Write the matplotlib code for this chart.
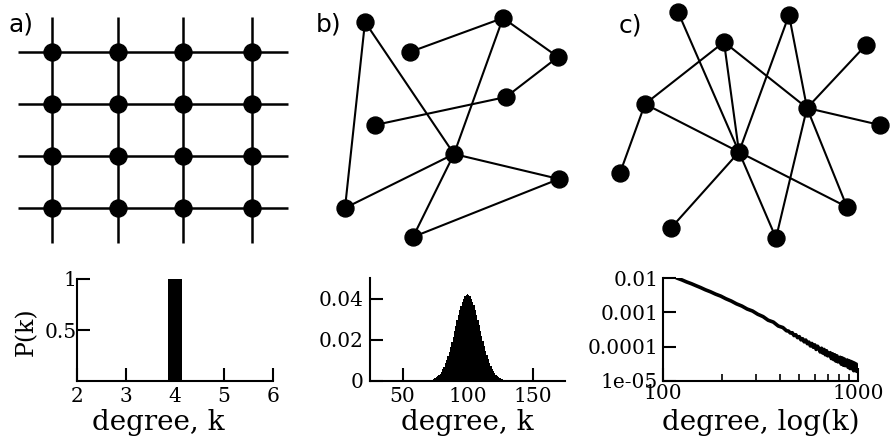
import numpy as np
import matplotlib
matplotlib.use('Agg')
from matplotlib import pyplot as plt
from matplotlib.ticker import NullLocator, NullFormatter, FixedLocator

plt.rcParams['font.family'] = ['DejaVu Serif']

# top row, node positions in picture pixels (y goes down)
lattice_x = [52, 118, 183, 252]
lattice_y = [52, 104, 156, 208]

random_x = [365, 503, 410, 558, 506, 375, 454, 559, 345, 413]
random_y = [22, 18, 52, 57, 97, 125, 154, 179, 208, 237]
random_edges = [(0, 8), (0, 6), (2, 1), (1, 3), (3, 4), (4, 5),
                (1, 6), (6, 8), (6, 7), (6, 9), (9, 7)]

sf_x = [678, 789, 724, 866, 645, 807, 880, 739, 620, 847, 671, 776]
sf_y = [12, 15, 42, 45, 104, 108, 125, 152, 173, 207, 228, 238]
sf_edges = [(0, 7), (2, 4), (2, 7), (2, 5), (1, 7), (1, 5), (3, 5), (5, 6),
            (4, 7), (4, 8), (7, 10), (7, 9), (7, 11), (5, 11), (5, 9)]

# bottom row, degree distributions
lattice_k = [4]
lattice_pk = [1.0]

random_k0 = 72
random_pk = [0.0005, 0.0007, 0.0010, 0.0013, 0.0017, 0.0022, 0.0029, 0.0036,
             0.0046, 0.0057, 0.0070, 0.0085, 0.0102, 0.0121, 0.0142, 0.0165,
             0.0189, 0.0215, 0.0241, 0.0268, 0.0295, 0.0320, 0.0344, 0.0366,
             0.0384, 0.0400, 0.0411, 0.0418, 0.0420, 0.0418, 0.0411, 0.0400,
             0.0385, 0.0367, 0.0346, 0.0322, 0.0297, 0.0271, 0.0245, 0.0219,
             0.0193, 0.0169, 0.0146, 0.0125, 0.0106, 0.0089, 0.0074, 0.0060,
             0.0049, 0.0039, 0.0031, 0.0024, 0.0019, 0.0014, 0.0011, 0.0008,
             0.0006, 0.0004, 0.0003, 0.0002]
random_k = np.arange(random_k0, random_k0 + len(random_pk))

sf_k = [119, 125, 132, 140, 148, 156, 165, 175, 186, 198, 210, 224, 238, 254,
        270, 288, 306, 326, 346, 368, 390, 412, 430,
        440, 450, 460, 470, 480, 490, 500, 510, 520, 530, 540, 550, 560, 570,
        580, 590, 600, 610, 620, 630, 640, 650, 660, 670, 680, 690, 700, 710,
        720, 730, 740, 750, 760, 770, 780, 790, 800, 810, 820, 830, 840, 850,
        860, 870, 880, 890, 900, 910, 920, 930, 940, 950, 960, 970, 980, 990,
        1000]
sf_pk = [0.00977, 0.00880, 0.00770, 0.00680, 0.00594, 0.00525, 0.00453,
         0.00398, 0.00339, 0.00296, 0.00249, 0.00213, 0.00177, 0.00152,
         0.00125, 0.00109, 0.00088, 0.00075, 0.00059, 0.00052, 0.00040,
         0.00036, 0.00029,
         2.85e-4, 2.50e-4, 2.55e-4, 2.10e-4, 2.22e-4, 1.83e-4, 1.96e-4, 1.58e-4,
         1.70e-4, 1.38e-4, 1.56e-4, 1.22e-4, 1.36e-4, 1.05e-4, 1.24e-4, 9.6e-5,
         1.13e-4, 8.3e-5, 1.03e-4, 8.9e-5, 7.0e-5, 9.0e-5, 6.5e-5, 8.3e-5,
         5.8e-5, 7.6e-5, 5.4e-5, 6.2e-5, 6.7e-5, 4.5e-5, 6.2e-5, 4.2e-5,
         5.8e-5, 3.8e-5, 5.4e-5, 3.6e-5, 4.5e-5, 4.9e-5, 3.1e-5, 4.7e-5,
         2.9e-5, 4.4e-5, 2.8e-5, 3.5e-5, 4.1e-5, 2.5e-5, 3.9e-5, 2.3e-5,
         3.7e-5, 2.3e-5, 3.5e-5, 2.0e-5, 3.3e-5, 2.0e-5, 3.1e-5, 1.9e-5,
         2.6e-5]

fig = plt.figure(figsize=(8.91, 4.43), dpi=100)

# networks drawn on one overlay in pixel coordinates
net = fig.add_axes([0, 0, 1, 1])
net.set_xlim(0, 891)
net.set_ylim(443, 0)
net.set_axis_off()

for x in lattice_x:
    net.plot([x, x], [17, 243], color='black', lw=1.8, solid_capstyle='butt')
for y in lattice_y:
    net.plot([18, 288], [y, y], color='black', lw=1.8, solid_capstyle='butt')
gx, gy = np.meshgrid(lattice_x, lattice_y)
net.plot(gx.ravel(), gy.ravel(), 'o', color='black', ms=12.2)

for xs, ys, edges in [(random_x, random_y, random_edges), (sf_x, sf_y, sf_edges)]:
    for i, j in edges:
        net.plot([xs[i], xs[j]], [ys[i], ys[j]], color='black', lw=1.5)
    net.plot(xs, ys, 'o', color='black', ms=12.2)

for x, y, s in [(9, 31, 'a)'), (316, 31, 'b)'), (619, 32, 'c)')]:
    net.text(x, y, s, fontsize=18, family='DejaVu Sans', va='baseline', ha='left')


def style(ax, xpad, ypad):
    ax.spines['top'].set_visible(False)
    ax.spines['right'].set_visible(False)
    ax.spines['left'].set_linewidth(1.5)
    ax.spines['bottom'].set_linewidth(1.5)
    ax.tick_params(which='major', direction='in', length=9.5, width=1.5, labelsize=14.5)
    ax.tick_params(which='minor', direction='in', length=5, width=1.2)
    ax.tick_params(axis='x', pad=xpad)
    ax.tick_params(axis='y', pad=ypad)


# a) lattice
ax1 = fig.add_axes([77 / 891, 62 / 443, 196 / 891, 102 / 443])
ax1.bar(lattice_k, lattice_pk, width=0.28, color='black')
ax1.set_xlim(2, 6)
ax1.set_ylim(0, 1)
ax1.set_xticks([2, 3, 4, 5, 6])
ax1.set_yticks([0.5, 1])
ax1.set_yticklabels(['0.5', '1'])
style(ax1, 4.5, 0.5)
ax1.set_xlabel('degree, k', fontsize=20)
ax1.xaxis.set_label_coords(0.413, -0.27)
ax1.set_ylabel('P(k)', fontsize=17)
ax1.yaxis.set_label_coords(-0.2, 0.48)

# b) random network
ax2 = fig.add_axes([370 / 891, 62 / 443, 195 / 891, 103 / 443])
ax2.bar(random_k, random_pk, width=1.0, color='black', linewidth=0, antialiased=False)
ax2.set_xlim(25, 175)
ax2.set_ylim(0, 0.05)
ax2.set_xticks([50, 100, 150])
ax2.set_yticks([0, 0.02, 0.04])
ax2.set_yticklabels(['0', '0.02', '0.04'])
style(ax2, 4.5, 5)
ax2.set_xlabel('degree, k', fontsize=20)
ax2.xaxis.set_label_coords(0.5, -0.27)

# c) scale-free network
ax3 = fig.add_axes([663 / 891, 62 / 443, 195 / 891, 103 / 443])
ax3.loglog(sf_k, sf_pk, color='black', lw=2.6)
ax3.set_xlim(100, 1000)
ax3.set_ylim(1e-5, 1e-2)
ax3.xaxis.set_major_locator(FixedLocator([100, 1000]))
ax3.set_xticklabels(['100', '1000'])
ax3.xaxis.set_minor_locator(FixedLocator([200, 300, 400, 500, 600, 700, 800, 900]))
ax3.xaxis.set_minor_formatter(NullFormatter())
ax3.yaxis.set_major_locator(FixedLocator([1e-5, 1e-4, 1e-3, 1e-2]))
ax3.set_yticklabels(['1e-05', '0.0001', '0.001', '0.01'])
ax3.yaxis.set_minor_locator(NullLocator())
style(ax3, 2, 3.5)
ax3.set_xlabel('degree, log(k)', fontsize=20)
ax3.xaxis.set_label_coords(0.5, -0.27)

fig.savefig('out.png', dpi=100)
